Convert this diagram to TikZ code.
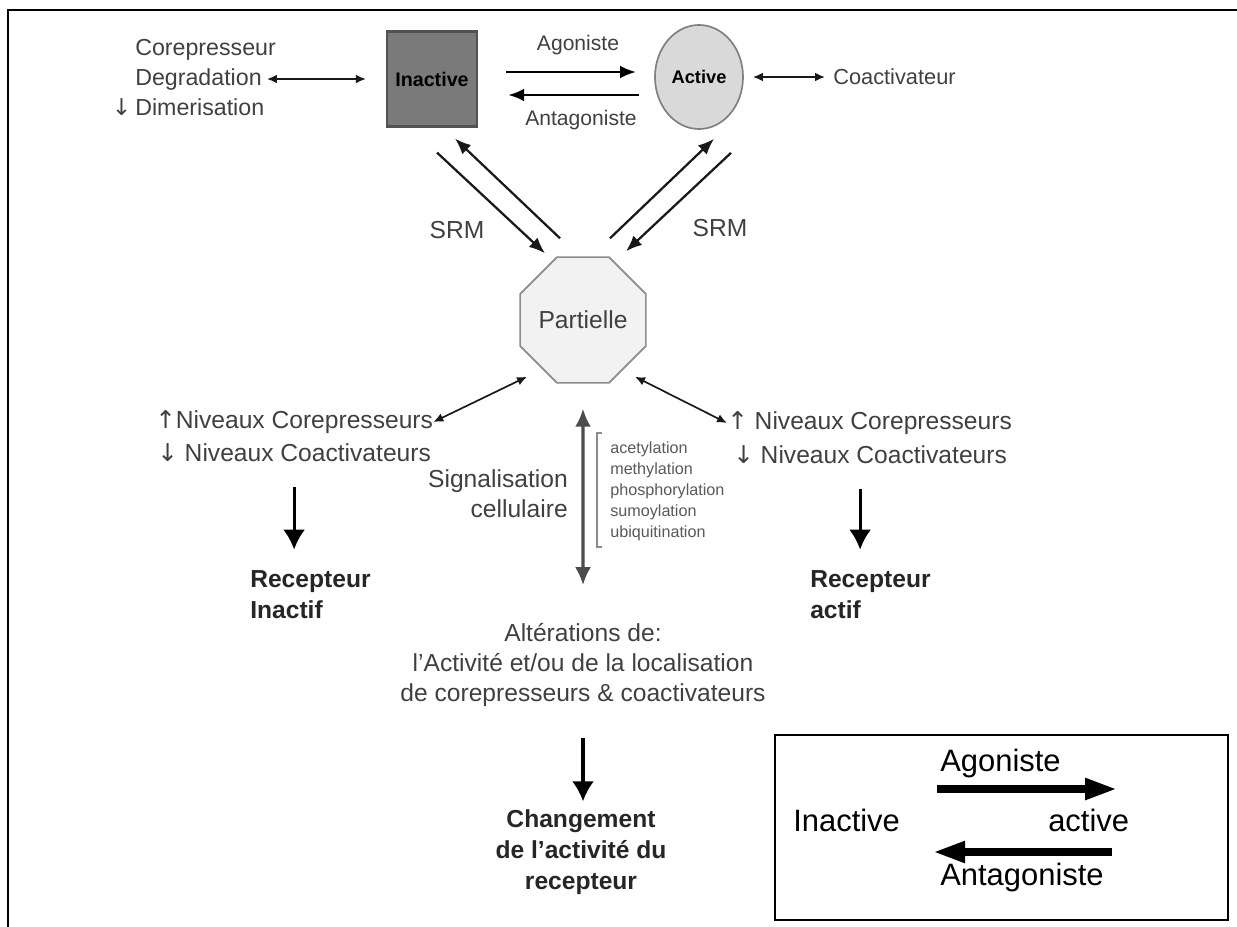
\documentclass[tikz,border=0pt]{standalone}
\usepackage{fontspec}
\setmainfont{Liberation Sans}
\newfontfamily\flechefont{DejaVu Sans}
\usepackage{tikz}
\usetikzlibrary{arrows.meta,shapes.geometric,calc,positioning}
\tikzset{>=latex}
\newcommand{\haut}{{\flechefont ↑}}
\newcommand{\bas}{{\flechefont ↓}}

\begin{document}
\begin{tikzpicture}[x=0.025cm, y=-0.025cm,
  lbl/.style={font=\fontsize{17.5}{21.3}\selectfont, text=black!75, inner sep=0pt},
  gras/.style={lbl, font=\fontsize{17.5}{22}\selectfont\bfseries, text=black!85},
  petit/.style={lbl, font=\fontsize{11.5}{14.9}\selectfont, text=black!65},
  legende/.style={font=\fontsize{22}{26}\selectfont, text=black, inner sep=0pt},
  fin/.style={{Latex[length=0.25cm,width=0.22cm]}-{Latex[length=0.25cm,width=0.22cm]}, line width=1.2pt, black!90},
  srm/.style={-{Latex[length=0.4cm,width=0.32cm]}, line width=1.6pt, black!90},
  agon/.style={-{Latex[length=0.4cm,width=0.32cm]}, line width=2pt},
  descente/.style={-{Latex[length=0.5cm,width=0.55cm]}, line width=2.2pt},
  vert/.style={{Latex[length=0.45cm,width=0.4cm]}-{Latex[length=0.45cm,width=0.4cm]}, line width=2.2pt, black!70},
  flegende/.style={-{Triangle[length=0.8cm,width=0.5cm]}, line width=5.5pt}]
  \useasboundingbox (0,0) rectangle (1237,927);
  \draw[line width=2pt] (8,927) -- (8,10) -- (1237,10);

  % etats
  \node[rectangle, draw=black!68, fill=black!52, line width=1.5pt, minimum width=2.25cm, minimum height=2.375cm,
        font=\fontsize{14}{16}\selectfont\bfseries] (inactive) at (432,79) {Inactive};
  \node[ellipse, draw=black!50, fill=black!15, line width=1.2pt, minimum width=2.2cm, minimum height=2.6cm,
        inner sep=0pt, font=\fontsize{13}{15}\selectfont\bfseries] (active) at (699,77) {Active};
  \node[regular polygon, regular polygon sides=8, draw=black!45, fill=black!5, line width=1.2pt,
        minimum size=2.975cm, inner sep=0pt, lbl] (partielle) at (583,320) {Partielle};

  % haut
  \node[lbl, font=\fontsize{16.5}{20}\selectfont, anchor=west] (corep) at (135,50) {Corepresseur};
  \node[lbl, font=\fontsize{16.5}{20}\selectfont, anchor=west] (degrad) at (135,79) {Degradation};
  \node[lbl, font=\fontsize{16.5}{20}\selectfont, anchor=west] (dimer) at (135,107) {\llap{\bas\,}Dimerisation};
  \draw[fin, shorten <=0.125cm, shorten >=0.5cm] (degrad.east) -- (degrad.east -| inactive.west);
  \node[lbl, font=\fontsize{15.5}{18}\selectfont, anchor=west] (coact) at (833,77) {Coactivateur};
  \draw[fin, shorten <=0.225cm, shorten >=0.2cm] (active.east) -- (coact.west);

  \node[lbl, font=\fontsize{15}{18}\selectfont] (ago) at (578,45) {Agoniste};
  \node[lbl, font=\fontsize{15}{18}\selectfont] (antago) at (581,120) {Antagoniste};
  \draw[agon] ($(inactive.east)+(28,-7)$) -- ($(inactive.east -| active.west)+(-18,-7)$);
  \draw[agon] ($(inactive.east -| active.west)+(-15,16)$) -- ($(inactive.east)+(30,16)$);

  % SRM
  \draw[srm] ($(inactive.south)+(5,25)$) -- ($(partielle.north)+(-38,-3)$);
  \draw[srm] ($(partielle.north)+(-23,-18)$) -- ($(inactive.south)+(23,11)$);
  \draw[srm] ($(partielle.north)+(27,-18)$) -- ($(active.south)+(15,9)$);
  \draw[srm] ($(active.south)+(32,23)$) -- ($(partielle.north)+(43,-5)$);
  \node[lbl] (srmg) at (457,230) {SRM};
  \node[lbl] (srmd) at (720,228) {SRM};

  % gauche
  \node[lbl, anchor=west] (corepg) at (155,422) {\haut Niveaux Corepresseurs};
  \node[lbl, anchor=west] (coactg) at (157,453) {\bas\ Niveaux Coactivateurs};
  \draw[fin] ($(partielle.south)+(-56,-7)$) -- (corepg.east);
  \node[gras, align=left, anchor=west] (recg) at (250,595) {Recepteur\\Inactif};
  \draw[descente, shorten <=0.625cm, shorten >=0.525cm] (coactg.south) -- (coactg.south |- recg.north);

  % droite
  \node[lbl, anchor=west] (corepd) at (727,423) {\haut\ Niveaux Corepresseurs};
  \node[lbl, anchor=west] (coactd) at (733,455) {\bas\ Niveaux Coactivateurs};
  \draw[fin] ($(partielle.south)+(52,-7)$) -- (corepd.west);
  \node[gras, align=left, anchor=west] (recd) at (810,595) {Recepteur\\actif};
  \draw[descente, shorten <=0.625cm, shorten >=0.525cm] ($(coactd.south)+(-10,0)$) -- ($(coactd.south |- recd.north)+(-10,0)$);

  % centre
  \node[lbl, align=right, anchor=east] (signal) at (568,494) {Signalisation\\cellulaire};
  \node[petit, align=left, anchor=west] (tags) at (610,491) {acetylation\\methylation\\phosphorylation\\sumoylation\\ubiquitination};
  \draw[black!45, line width=0.8pt] (602,433) -- (597,433) -- (597,547) -- (602,547);
  \node[lbl, align=center] (alter) at (583,665) {Altérations de:\\l'Activité et/ou de la localisation\\de corepresseurs \& coactivateurs};
  \draw[vert, shorten <=0.625cm, shorten >=0.95cm] (partielle.south) -- (alter.north);
  \node[gras, align=center] (change) at (581,852) {Changement\\de l'activité du\\recepteur};
  \draw[descente, shorten <=0.775cm, shorten >=0.2cm] (alter.south) -- (alter.south |- change.north);

  % legende
  \draw[line width=1.5pt] (775,735) rectangle (1228,920);
  \node[legende, anchor=west] (legago) at (940,763) {Agoniste};
  \node[legende, anchor=west] (leginact) at (793,820) {Inactive};
  \node[legende, anchor=west] (legact) at (1048,820) {active};
  \node[legende, anchor=west] (legantago) at (940,877) {Antagoniste};
  \draw[flegende] ($(leginact.east)+(37,-31)$) -- ($(leginact.east)+(217,-31)$);
  \draw[flegende] ($(legact.west)+(64,32)$) -- ($(legact.west)+(-115,32)$);
\end{tikzpicture}
\end{document}
